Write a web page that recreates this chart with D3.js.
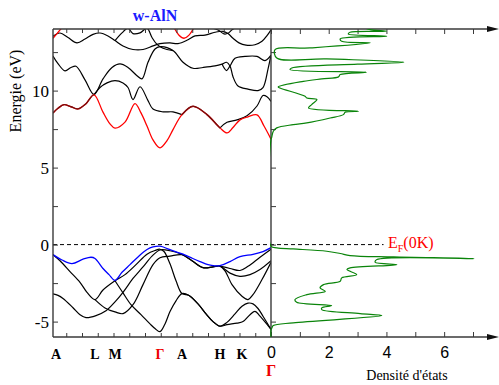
<!DOCTYPE html>
<html>
<head>
<meta charset="utf-8">
<script src="https://cdn.jsdelivr.net/npm/d3@7"></script>
<style>
  body { margin: 0; background: #fff; }
  svg { display: block; }
  text { font-family: "Liberation Serif", "Times New Roman", serif; }
</style>
</head>
<body>
<script>
const width = 499, height = 385;
const serif = "'Liberation Serif', 'Times New Roman', serif";

// k path (A L M Γ A H K Γ), path units
const kPoints = [0, 0.42, 0.62, 1.07, 1.29, 1.67, 1.89, 2.18];
const kLabels = ["A", "L", "M", "Γ", "A", "H", "K", "Γ"];
const kColors = ["#000", "#000", "#000", "#e00", "#000", "#000", "#000", "#e00"];
// k ranges where the red band lies on a black partner
const degenerate = [[0, 0.41], [1.29, 1.67]];

// conduction bands [k, E]
const c1 = [[0,8.55],[0.05,8.85],[0.11,9.09],[0.18,8.95],[0.25,8.81],[0.33,9.15],[0.41,9.72],[0.50,8.6],[0.57,7.84],[0.62,7.56],[0.72,7.95],[0.82,9.16],[0.88,8.55],[0.94,7.7],[1.00,6.8],[1.07,6.28],[1.14,6.75],[1.20,7.47],[1.29,8.44],[1.40,8.98],[1.54,8.44],[1.67,7.58],[1.74,7.25],[1.80,7.6],[1.87,8.1],[1.95,8.3],[2.04,8.42],[2.11,7.7],[2.18,6.85]];
const c2a = [[0.41,9.72],[0.47,10.2],[0.54,10.5],[0.62,10.65],[0.70,10.5],[0.75,10.2],[0.80,9.42],[0.87,10.25],[0.95,9.35],[1.00,8.8],[1.10,8.62],[1.20,8.62],[1.29,8.44]];
const c2b = [[1.67,7.58],[1.74,7.94],[1.84,8.1],[1.94,8.36],[2.04,9.0],[2.10,9.68],[2.14,9.6],[2.18,9.3]];
const c3 = [[0,12.25],[0.05,11.75],[0.12,11.28],[0.18,11.5],[0.23,11.58],[0.32,10.7],[0.41,9.75],[0.50,10.76],[0.59,11.5],[0.67,11.73],[0.75,11.5],[0.84,10.97],[0.89,10.76],[0.95,11.84],[1.02,12.7],[1.07,12.85],[1.20,12.6],[1.30,11.84],[1.40,11.45],[1.50,11.5],[1.62,11.6],[1.69,11.72],[1.735,11.84],[1.77,11.6],[1.80,10.9],[1.85,10.3],[1.95,10.1],[2.05,10.0],[2.10,10.2],[2.15,11.4],[2.18,12.3]];
const c4 = [[1.69,11.72],[1.735,11.3],[1.77,11.6],[1.82,12.1],[1.92,12.22],[2.04,12.22],[2.12,11.95],[2.18,12.3]];
const t1 = [[0,13.53],[0.07,13.74],[0.15,13.45],[0.24,13.1],[0.32,13.35],[0.40,13.65],[0.47,13.74],[0.55,13.55],[0.62,13.25],[0.70,12.9],[0.80,12.67],[0.90,12.67],[1.00,12.9],[1.07,13.05],[1.17,13.1],[1.25,13.05],[1.35,13.3],[1.42,13.55],[1.52,13.6],[1.62,13.79],[1.70,13.85],[1.75,13.7],[1.80,13.4],[1.86,13.1],[1.93,12.95],[2.02,12.98],[2.09,13.2],[2.14,13.57],[2.18,13.95]];
const t2 = [[0.62,13.25],[0.69,13.75],[0.75,14.05],[0.80,13.7],[0.87,13.75],[0.94,14.05],[0.99,13.45],[1.04,13.0],[1.10,12.75],[1.20,12.6]];
const t3 = [[1.60,14.05],[1.66,13.9],[1.71,13.68],[1.75,13.72],[1.79,13.95],[1.83,14.1]];
const r2 = [[0,13.4],[0.04,13.7],[0.09,14.1]];
const r3 = [[1.21,14.1],[1.26,13.6],[1.31,13.4],[1.36,13.6],[1.41,14.1]];

// valence bands [k, E]
const v1 = [[0,-0.65],[0.09,-1.0],[0.19,-1.23],[0.30,-0.95],[0.38,-0.82],[0.42,-0.9],[0.50,-1.55],[0.56,-1.95],[0.62,-2.32],[0.69,-1.8],[0.77,-1.3],[0.85,-0.8],[0.94,-0.32],[1.00,-0.15],[1.07,-0.1],[1.17,-0.33],[1.30,-0.62],[1.38,-0.85],[1.47,-1.1],[1.55,-1.3],[1.62,-1.38],[1.67,-1.36],[1.77,-1.1],[1.87,-0.78],[2.00,-0.63],[2.10,-0.45],[2.18,-0.2]];
const v2 = [[0,-0.65],[0.07,-1.05],[0.17,-1.75],[0.27,-2.45],[0.34,-3.1],[0.42,-3.57],[0.50,-2.95],[0.62,-2.35],[0.72,-1.95],[0.83,-1.3],[0.94,-0.62],[1.02,-0.38],[1.07,-0.3],[1.11,-0.45],[1.17,-1.25],[1.23,-2.35],[1.29,-3.18],[1.36,-3.3],[1.45,-3.85],[1.53,-4.5],[1.60,-5.0],[1.67,-5.3],[1.74,-5.2],[1.84,-5.1],[1.90,-5.0],[1.97,-4.55],[2.02,-4.33],[2.07,-4.65],[2.18,-5.5]];
const v3 = [[0,-3.2],[0.05,-3.3],[0.10,-3.5],[0.20,-4.1],[0.27,-4.55],[0.33,-4.74],[0.43,-4.61],[0.53,-4.3],[0.62,-3.72],[0.70,-3.1],[0.80,-2.2],[0.90,-1.45],[0.99,-0.75],[1.07,-0.35],[1.17,-0.4],[1.29,-0.64],[1.39,-1.05],[1.50,-1.5],[1.60,-1.45],[1.67,-1.4],[1.72,-1.7],[1.79,-2.6],[1.89,-3.35],[1.95,-3.57],[2.00,-3.25],[2.09,-2.27],[2.18,-1.15]];
const vc = [[0.42,-3.57],[0.52,-4.11],[0.62,-4.37],[0.70,-4.48],[0.80,-3.9],[0.90,-2.6],[1.00,-1.3],[1.07,-0.85],[1.17,-0.75],[1.29,-0.66],[1.39,-1.05],[1.50,-1.5],[1.60,-1.45],[1.67,-1.4],[1.77,-1.85],[1.87,-2.06],[1.97,-1.95],[2.07,-1.62],[2.18,-1.05]];
const vd = [[0.62,-2.35],[0.70,-3.14],[0.78,-3.9],[0.88,-4.55],[0.97,-5.15],[1.02,-5.45],[1.07,-5.65],[1.12,-5.15],[1.17,-4.35],[1.23,-3.65],[1.29,-3.18],[1.36,-3.3],[1.45,-3.85],[1.53,-4.5],[1.60,-5.0],[1.67,-5.3],[1.74,-5.05],[1.82,-4.5],[1.89,-4.0],[1.95,-3.8],[2.00,-3.85],[2.05,-4.15],[2.10,-4.65],[2.18,-5.5]];
const vk = [[1.67,-1.4],[1.77,-1.55],[1.87,-1.68],[1.95,-1.41],[2.07,-0.82],[2.18,-0.3]];

// density of states [E, DOS]
const dosValence = [[-6,0],[-5.55,0],[-5.42,0.03],[-5.26,0.08],[-5.08,0.77],[-4.61,3.84],[-4.48,3.09],[-4.22,1.76],[-4.11,1.76],[-3.96,2.1],[-3.75,0.89],[-3.57,0.83],[-3.25,1.24],[-3.03,1.88],[-2.81,1.7],[-2.6,1.82],[-2.38,2.4],[-2.16,2.45],[-1.95,2.97],[-1.62,2.63],[-1.51,2.74],[-1.3,4.36],[-1.15,3.61],[-0.97,3.67],[-0.91,7.03],[-0.8,4.25],[-0.71,2.74],[-0.58,2.4],[-0.43,1.93],[-0.28,0.77],[-0.21,0.2],[-0.1,0]];
const dosConduction = [[6.82,0],[6.93,0.02],[7.36,0.08],[7.58,0.2],[7.79,0.77],[7.9,1.24],[8.22,2.05],[8.44,2.51],[8.59,2.57],[8.66,3.03],[8.87,1.3],[9.09,1.41],[9.42,1.59],[9.52,1.24],[9.63,1.18],[10.17,0.31],[10.24,0.25],[10.6,1.12],[10.76,1.76],[10.89,2.34],[11.04,2.4],[11.19,3.3],[11.36,0.66],[11.47,0.72],[11.72,3.0],[11.84,4.6],[12.06,1.93],[12.12,0.2],[12.66,0.14],[12.77,1.35],[13.1,3.44],[13.2,2.45],[13.36,2.4],[13.53,4.01],[13.68,2.68],[13.79,2.74],[13.85,4.0],[13.96,3.44],[14.1,3.2]];

const energyTicks = [-5, -2.5, 0, 2.5, 5, 7.5, 10, 12.5];
const dosTicks = [0, 1, 2, 3, 4, 5, 6, 7];
const kTicks = d3.range(0, 14).map(i => 2.18 - 0.1575 * i);

const x = d3.scaleLinear([0, 2.18], [53, 271]);
const y = d3.scaleLinear([-6, 14], [337, 29]);
const xd = d3.scaleLinear([0, 7], [271, 473]);

const svg = d3.select("body").append("svg")
  .attr("width", width).attr("height", height);

const defs = svg.append("defs");
defs.append("clipPath").attr("id", "bandclip").append("rect")
  .attr("x", 53).attr("y", 29).attr("width", 218).attr("height", 308);
defs.append("clipPath").attr("id", "dosclip").append("rect")
  .attr("x", 270).attr("y", 29).attr("width", 229).attr("height", 308);
const degClip = defs.append("clipPath").attr("id", "degclip");
degenerate.forEach(r => degClip.append("rect")
  .attr("x", x(r[0])).attr("y", 29).attr("width", x(r[1]) - x(r[0])).attr("height", 308));

// Fermi level
svg.append("line")
  .attr("x1", 53).attr("x2", xd(3.9)).attr("y1", y(0)).attr("y2", y(0))
  .attr("stroke", "#000").attr("stroke-width", 1).attr("stroke-dasharray", "4,3");

const bandLine = d3.line().x(d => x(d[0])).y(d => y(d[1])).curve(d3.curveCatmullRom.alpha(0.5));
const bands = svg.append("g").attr("clip-path", "url(#bandclip)").attr("fill", "none");

bands.selectAll(".black").data([c2a, c2b, c3, c4, t1, t2, t3, v2, v3, vc, vd, vk]).join("path")
  .attr("class", "black").attr("d", bandLine)
  .attr("stroke", "#000").attr("stroke-width", 1.2);
bands.selectAll(".red").data([c1, r2, r3]).join("path")
  .attr("class", "red").attr("d", bandLine)
  .attr("stroke", "#ff0000").attr("stroke-width", 1.3);
bands.append("g").attr("clip-path", "url(#degclip)").append("path")
  .attr("d", bandLine(c1)).attr("stroke", "#7a0c0c").attr("stroke-width", 1.4);
bands.selectAll(".blue").data([v1]).join("path")
  .attr("class", "blue").attr("d", bandLine)
  .attr("stroke", "#0000ff").attr("stroke-width", 1.3);

// axes
const axisColor = "#3a3a3a";
function clean(g) {
  g.select(".domain").remove();
  g.selectAll(".tick line").attr("stroke", axisColor);
}

svg.append("g").attr("transform", "translate(53,0)")
  .call(d3.axisLeft(y).tickValues(energyTicks).tickSizeInner(-5).tickSizeOuter(0).tickPadding(4)
    .tickFormat(d => d % 5 === 0 ? d : ""))
  .call(clean)
  .call(g => g.selectAll("text").style("font-family", serif).style("font-size", "17px").attr("fill", "#000"));

svg.append("g").attr("transform", "translate(271,0)")
  .call(d3.axisRight(y).tickValues(energyTicks).tickSizeInner(5).tickSizeOuter(0).tickFormat(""))
  .call(clean);

svg.append("g").attr("transform", "translate(0,337)")
  .call(d3.axisBottom(x).tickValues(kTicks).tickSizeInner(-4).tickSizeOuter(0).tickFormat(""))
  .call(clean);
svg.append("g").attr("transform", "translate(0,29)")
  .call(d3.axisTop(x).tickValues(kTicks).tickSizeInner(-4).tickSizeOuter(0).tickFormat(""))
  .call(clean);

svg.append("g").attr("transform", "translate(0,337)")
  .call(d3.axisBottom(xd).tickValues(dosTicks).tickSizeInner(-5).tickSizeOuter(0).tickPadding(10)
    .tickFormat(d => d % 2 === 0 ? d : ""))
  .call(clean)
  .call(g => g.selectAll("text").style("font-family", "'Liberation Sans', Arial, sans-serif").style("font-size", "16px").attr("fill", "#000"));
svg.append("g").attr("transform", "translate(0,29)")
  .call(d3.axisTop(xd).tickValues(dosTicks).tickSizeInner(-5).tickSizeOuter(0).tickFormat(""))
  .call(clean);

// frame lines and arrows
const frame = svg.append("g").attr("stroke", axisColor).attr("stroke-width", 1.4);
frame.append("line").attr("x1", 53).attr("x2", 53).attr("y1", 29).attr("y2", 337);
frame.append("line").attr("x1", 271).attr("x2", 271).attr("y1", 29).attr("y2", 337);
[29, 337].forEach(yy => {
  frame.append("line").attr("x1", 53).attr("x2", 492).attr("y1", yy).attr("y2", yy);
  svg.append("path")
    .attr("d", `M487,${yy - 3}L499,${yy}L487,${yy + 3}Z`)
    .attr("fill", "#111");
});

// density of states
const dosLine = d3.line().x(d => xd(d[1])).y(d => y(d[0])).curve(d3.curveCatmullRom.alpha(0.5));
svg.append("path")
  .attr("clip-path", "url(#dosclip)")
  .attr("d", dosLine(dosValence.concat(dosConduction)))
  .attr("fill", "none").attr("stroke", "#0a840a").attr("stroke-width", 1.2);

// k labels
svg.selectAll(".klabel").data(kLabels).join("text")
  .attr("class", "klabel")
  .attr("x", (d, i) => x(kPoints[i]) + (i === 0 ? 3 : 0))
  .attr("y", (d, i) => i === kLabels.length - 1 ? 376 : 359)
  .attr("text-anchor", "middle")
  .attr("fill", (d, i) => kColors[i])
  .style("font-family", serif)
  .style("font-weight", "bold")
  .style("font-size", (d, i) => i === kLabels.length - 1 ? "16px" : "14px")
  .text(d => d);

// titles
svg.append("text").attr("x", 155).attr("y", 21).attr("text-anchor", "middle")
  .attr("fill", "#1a1aff").style("font-family", serif).style("font-weight", "bold").style("font-size", "16px")
  .text("w-AlN");

svg.append("text").attr("transform", "translate(21,91) rotate(-90)")
  .attr("text-anchor", "middle").style("font-family", serif).style("font-size", "16px")
  .text("Energie (eV)");

svg.append("text").attr("x", 407).attr("y", 380).attr("text-anchor", "middle")
  .style("font-family", serif).style("font-size", "14px").text("Densité d'états");

const ef = svg.append("text").attr("x", 388).attr("y", 248).attr("fill", "#ff0000")
  .style("font-family", serif).style("font-size", "16px");
ef.append("tspan").text("E");
ef.append("tspan").attr("dy", 4).style("font-size", "10px").text("F");
ef.append("tspan").attr("dy", -4).text("(0K)");
</script>
</body>
</html>
